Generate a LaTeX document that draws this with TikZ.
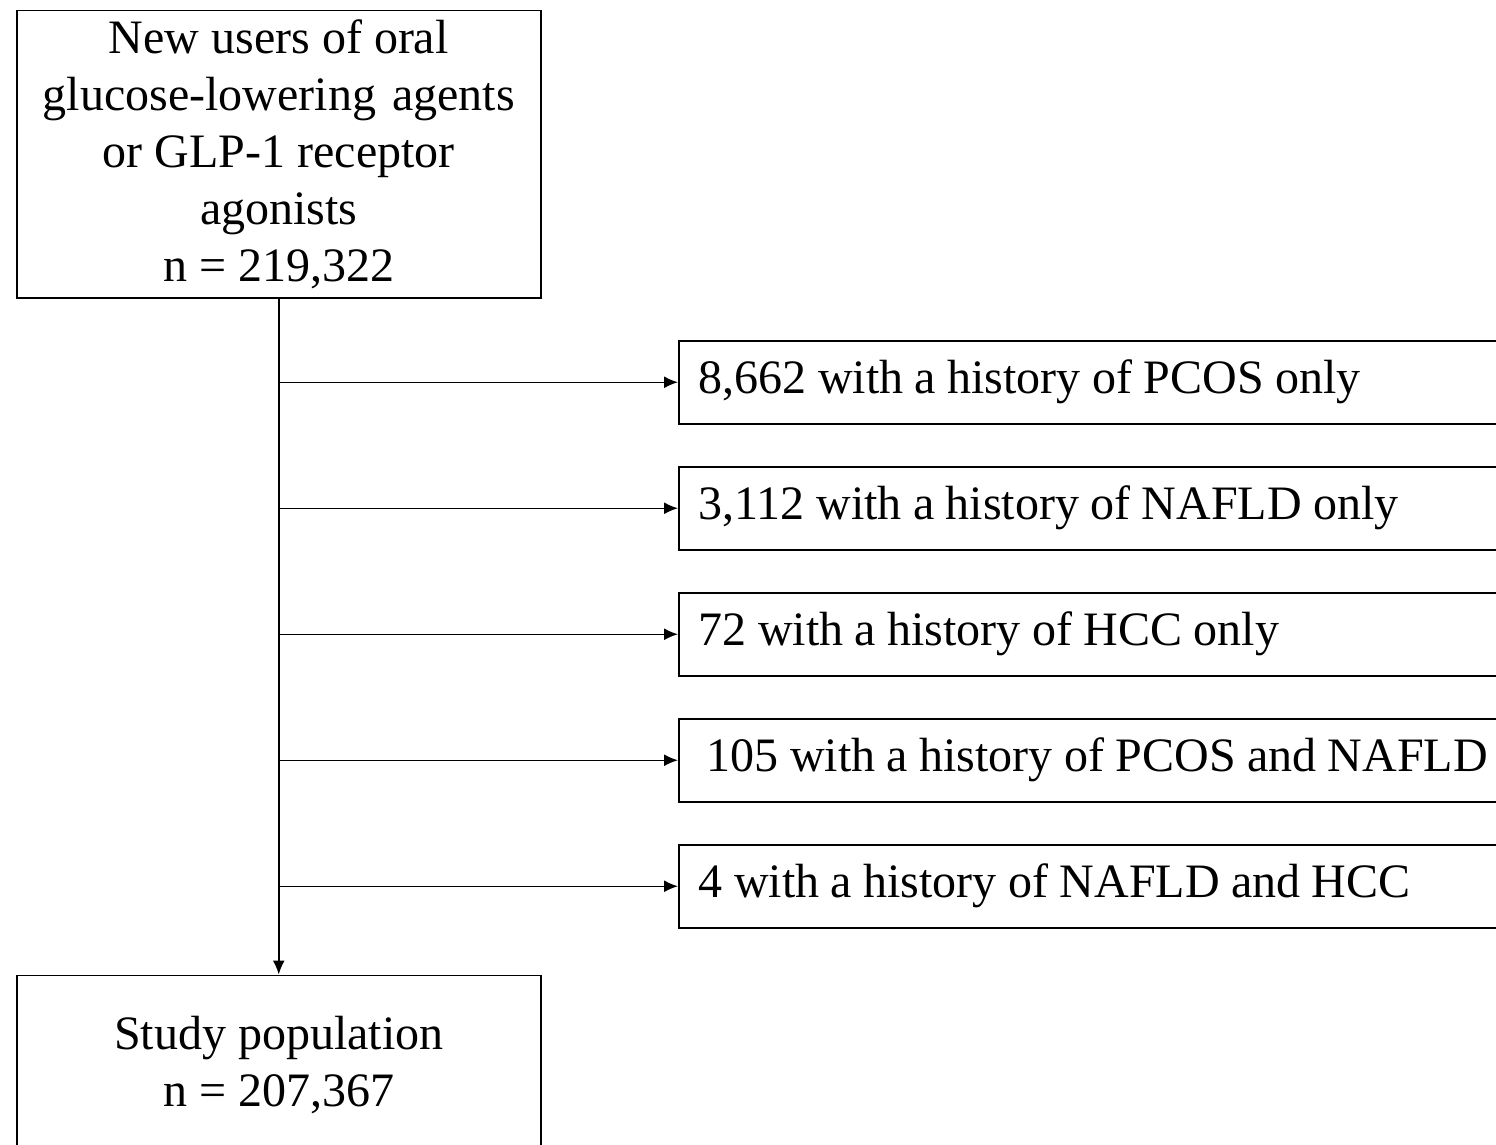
\documentclass[tikz,border=0pt]{standalone}
\usepackage{fontspec}
\setmainfont{Liberation Serif}
\usetikzlibrary{arrows.meta,positioning}

\begin{document}
\begin{tikzpicture}[
  x=0.5pt, y=-0.5pt,
  font=\fontsize{24}{28.5}\selectfont,
  node distance=20.75pt,
  block/.style={draw, line width=0.75pt, align=center, minimum width=262pt, inner ysep=0pt},
  excl/.style={draw, line width=0.75pt, align=left, text width=420pt, minimum height=41.5pt, inner xsep=10pt,
    execute at begin node={\spaceskip=5.7pt plus 1pt\relax}},
  arrow/.style={-{Latex[length=7pt,width=6pt]}, line width=0.75pt}
]
\useasboundingbox (0,0) rectangle (1496,1145);
\clip (0,0) rectangle (1496,1145);
\node[block, minimum height=143.5pt, anchor=north west] (users) at (16,10) {New users of oral\\glucose-lowering\hspace{2pt} agents\\or GLP-1 receptor\\agonists\\n = 219,322};
\node[excl, anchor=north west] (pcos) at (678,340) {8,662 with a history of PCOS only};
\node[excl, below=of pcos] (nafld) {3,112 with a history of NAFLD only};
\node[excl, below=of nafld] (hcc) {72 with a history of HCC only};
\node[excl, below=of hcc] (pcosnafld) {\hspace{4pt}105 with a history of PCOS and NAFLD};
\node[excl, below=of pcosnafld] (nafldhcc) {4 with a history of NAFLD and HCC};
\node[block, minimum height=90pt, below=338pt of users] (study) {Study population\\n = 207,367};
\draw[arrow] (users) -- (study);
\foreach \ex in {pcos,nafld,hcc,pcosnafld,nafldhcc} {
  \coordinate (b-\ex) at (users.south |- \ex.west);
  \draw[arrow] (b-\ex) -- (\ex.west);
}
\end{tikzpicture}
\end{document}
